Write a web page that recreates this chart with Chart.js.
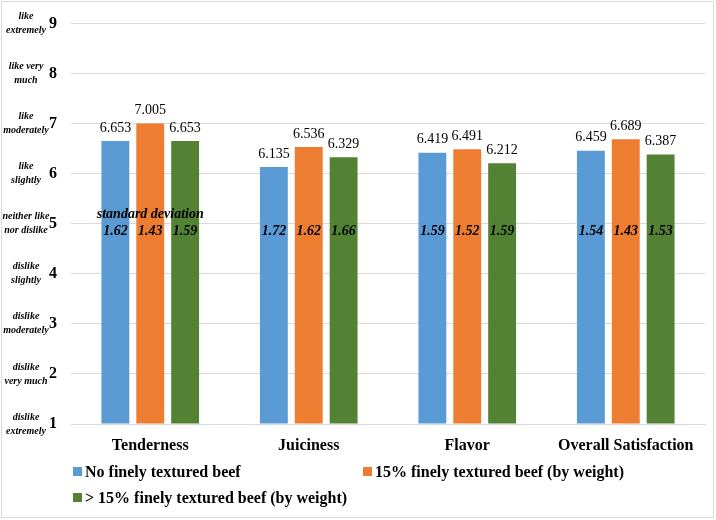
<!DOCTYPE html>
<html>
<head>
<meta charset="utf-8">
<script src="https://cdn.jsdelivr.net/npm/chart.js@4.4.1/dist/chart.umd.min.js"></script>
<style>
  html, body { margin: 0; padding: 0; background: #fff; }
</style>
</head>
<body>
<canvas id="chart" width="716" height="520"></canvas>
<script>
// Chart data
const categories = ['Tenderness', 'Juiciness', 'Flavor', 'Overall Satisfaction'];
const seriesNames = ['No finely textured beef', '15% finely textured beef (by weight)', '> 15% finely textured beef (by weight)'];
const seriesColors = ['#5b9bd5', '#ed7d31', '#548235'];
const noFtb = [6.653, 6.135, 6.419, 6.459];
const ftb15 = [7.005, 6.536, 6.491, 6.689];
const ftbOver15 = [6.653, 6.329, 6.212, 6.387];
const sdNoFtb = ['1.62', '1.72', '1.59', '1.54'];
const sdFtb15 = ['1.43', '1.62', '1.52', '1.43'];
const sdOver15 = ['1.59', '1.66', '1.59', '1.53'];
const scaleLabels = {
    9: ['like', 'extremely'],
    8: ['like very', 'much'],
    7: ['like', 'moderately'],
    6: ['like', 'slightly'],
    5: ['neither like', 'nor dislike'],
    4: ['dislike', 'slightly'],
    3: ['dislike', 'moderately'],
    2: ['dislike', 'very much'],
    1: ['dislike', 'extremely']
};

const serif = "'Liberation Serif', 'Times New Roman', serif";
const sdLists = [sdNoFtb, sdFtb15, sdOver15];

// value labels, sd labels, y-scale descriptors, legend and frame
const extrasPlugin = {
    id: 'extras',
    afterDatasetsDraw(chart) {
        const ctx = chart.ctx;
        const y = chart.scales.y;
        const y5 = y.getPixelForValue(5);
        ctx.save();
        ctx.textAlign = 'center';
        ctx.textBaseline = 'middle';
        chart.data.datasets.forEach((ds, i) => {
            const meta = chart.getDatasetMeta(i);
            meta.data.forEach((bar, j) => {
                ctx.fillStyle = '#000';
                ctx.font = '14px ' + serif;
                ctx.fillText(ds.data[j].toFixed(3), bar.x, bar.y - 13);
                ctx.font = 'italic bold 14px ' + serif;
                ctx.fillText(sdLists[i][j], bar.x, y5 + 8);
            });
        });
        // "standard deviation" caption over first group
        const first = chart.getDatasetMeta(1).data[0];
        ctx.font = 'italic bold 14px ' + serif;
        ctx.fillText('standard deviation', first.x, y5 - 9);

        // descriptive y labels
        ctx.font = 'italic bold 10px ' + serif;
        for (const v in scaleLabels) {
            const py = y.getPixelForValue(Number(v));
            ctx.fillText(scaleLabels[v][0], 26, py - 7);
            ctx.fillText(scaleLabels[v][1], 26, py + 7);
        }

        // legend
        ctx.textAlign = 'left';
        ctx.font = 'bold 16px ' + serif;
        const spots = [[73, 472], [363, 472], [73, 498]];
        seriesNames.forEach((name, i) => {
            ctx.fillStyle = seriesColors[i];
            ctx.fillRect(spots[i][0], spots[i][1] - 5, 9, 9);
            ctx.fillStyle = '#000';
            ctx.fillText(name, spots[i][0] + 12, spots[i][1] + 1);
        });

        // outer frame
        ctx.strokeStyle = '#d9d9d9';
        ctx.lineWidth = 1;
        ctx.strokeRect(1.5, 1.5, 712, 516);
        ctx.restore();
    }
};

new Chart(document.getElementById('chart'), {
    type: 'bar',
    data: {
        labels: categories,
        datasets: [
            { label: seriesNames[0], data: noFtb, backgroundColor: seriesColors[0] },
            { label: seriesNames[1], data: ftb15, backgroundColor: seriesColors[1] },
            { label: seriesNames[2], data: ftbOver15, backgroundColor: seriesColors[2] }
        ]
    },
    options: {
        responsive: false,
        animation: false,
        layout: { padding: { top: 19, right: 11, bottom: 56, left: 0 } },
        datasets: { bar: { categoryPercentage: 0.66, barPercentage: 0.8, base: 1 } },
        scales: {
            x: {
                afterFit: s => { s.height = 40; s.paddingLeft = 0; s.paddingRight = 0; },
                grid: { display: false, drawTicks: false },
                border: { color: '#d9d9d9' },
                ticks: { color: '#000', padding: 12, maxRotation: 0, font: { family: serif, size: 16, weight: 'bold' } }
            },
            y: {
                min: 1,
                max: 9,
                afterFit: s => { s.width = 71; },
                grid: { color: '#d9d9d9', drawTicks: false },
                border: { display: false },
                ticks: { stepSize: 1, color: '#000', padding: 14, font: { family: serif, size: 16, weight: 'bold' } }
            }
        },
        plugins: {
            legend: { display: false },
            tooltip: { enabled: false }
        }
    },
    plugins: [extrasPlugin]
});
</script>
</body>
</html>
